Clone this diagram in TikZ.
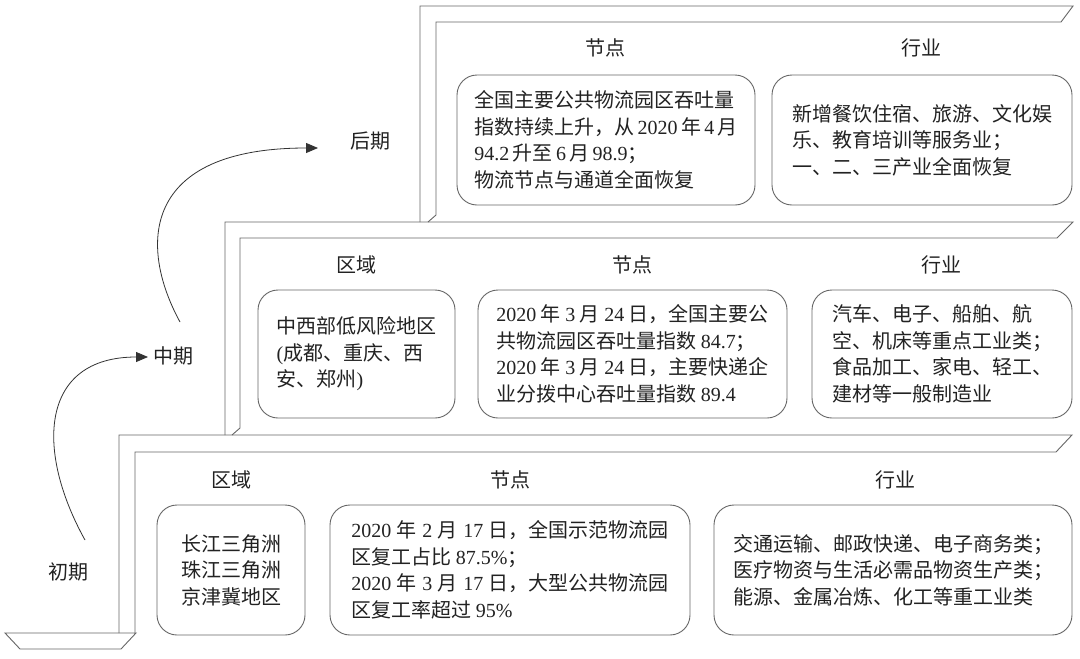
\documentclass[tikz,border=0pt]{standalone}
\usepackage{fontspec}
\setmainfont{Liberation Serif}
\newfontfamily\cjk{Noto Sans CJK SC}
\usetikzlibrary{arrows.meta}
\newcommand{\lat}[1]{{\rmfamily #1}}
\newcommand{\gp}{\hspace{4.5pt}}
\definecolor{linegray}{HTML}{666666}
\definecolor{txt}{HTML}{222222}
\begin{document}
\begin{tikzpicture}[x=1pt,y=-1pt,
  every node/.style={text=txt,font=\fontsize{20}{26.5}\selectfont\cjk},
  box/.style={draw=linegray,line width=0.9pt,rounded corners=20pt,align=left,inner sep=0pt},
  lbl/.style={inner sep=0pt},
  stepline/.style={draw=linegray,line width=0.9pt,line join=miter},
  flow/.style={draw=black!80,line width=0.8pt,-{Triangle[length=12pt,width=10pt]}}]
\useasboundingbox[fill=white] (0,0) rectangle (1080,659);

% steps
\draw[stepline] (5,633) -- (136,633) -- (121,649) -- (20,649) -- cycle;
\draw[stepline] (119,633) -- (119,435) -- (1072,435) -- (1056,452) -- (135,452) -- (135,633);
\draw[stepline] (225,435) -- (225,222) -- (1073,222) -- (1057,238) -- (240,238) -- (240,428) -- (232,435);
\draw[stepline] (420,222) -- (420,6) -- (1073,6) -- (1061,22) -- (436,22) -- (436,215) -- (428,222);

% stage labels
\node[lbl] (chuqi) at (68,572) {初期};
\node[lbl] (zhongqi) at (173,356) {中期};
\node[lbl] (houqi) at (370,141) {后期};
\coordinate (a1s) at (85,540);
\coordinate (a1e) at (148,357);
\coordinate (a2s) at (180,322);
\coordinate (a2e) at (318,148);
\draw[flow] (a1s) .. controls (35,450) and (40,357) .. (a1e);
\draw[flow] (a2s) .. controls (138,245) and (142,148) .. (a2e);

% top row
\node[lbl] (t1) at (605,48) {节点};
\node[lbl] (t2) at (921,48) {行业};
\node[box,minimum width=298pt,minimum height=130pt] (tb1) at (606,140)
 {全国主要公共物流园区吞吐量\\指数持续上升，从\,\lat{2020}\,年\,\lat{4}\,月\\\lat{94.2}\,升至\,\lat{6}\,月\,\lat{98.9}；\\物流节点与通道全面恢复};
\node[box,minimum width=300pt,minimum height=130pt] (tb2) at (922,140)
 {新增餐饮住宿、旅游、文化娱\\乐、教育培训等服务业；\\一、二、三产业全面恢复};

% middle row
\node[lbl] (m1) at (356,265) {区域};
\node[lbl] (m2) at (632,265) {节点};
\node[lbl] (m3) at (941,265) {行业};
\node[box,minimum width=197pt,minimum height=128pt] (mb1) at (356.5,354)
 {中西部低风险地区\\\lat{(}成都、重庆、西\\安、郑州\lat{)}};
\node[box,minimum width=309pt,minimum height=128pt] (mb2) at (632.5,354)
 {\lat{2020}\gp 年\gp\lat{3}\gp 月\gp\lat{24}\gp 日，全国主要公\\共物流园区吞吐量指数\gp\lat{84.7}；\\\lat{2020}\gp 年\gp\lat{3}\gp 月\gp\lat{24}\gp 日，主要快递企\\业分拨中心吞吐量指数\gp\lat{89.4}};
\node[box,minimum width=260pt,minimum height=128pt] (mb3) at (942,354)
 {汽车、电子、船舶、航\\空、机床等重点工业类；\\食品加工、家电、轻工、\\建材等一般制造业};

% bottom row
\node[lbl] (b1) at (231,480) {区域};
\node[lbl] (b2) at (510,480) {节点};
\node[lbl] (b3) at (895,480) {行业};
\node[box,minimum width=148pt,minimum height=130pt] (bb1) at (231,570)
 {长江三角洲\\珠江三角洲\\京津冀地区};
\node[box,minimum width=360pt,minimum height=130pt] (bb2) at (510,570)
 {\lat{2020}\hspace{5.5pt}年\hspace{5.5pt}\lat{2}\hspace{5.5pt}月\hspace{5.5pt}\lat{17}\hspace{5.5pt}日，全国示范物流园\\区复工占比\gp\lat{87.5\%}；\\\lat{2020}\hspace{5.5pt}年\hspace{5.5pt}\lat{3}\hspace{5.5pt}月\hspace{5.5pt}\lat{17}\hspace{5.5pt}日，大型公共物流园\\区复工率超过\gp\lat{95\%}};
\node[box,minimum width=358pt,minimum height=130pt] (bb3) at (893,570)
 {交通运输、邮政快递、电子商务类；\\医疗物资与生活必需品物资生产类；\\能源、金属冶炼、化工等重工业类};
\end{tikzpicture}
\end{document}
